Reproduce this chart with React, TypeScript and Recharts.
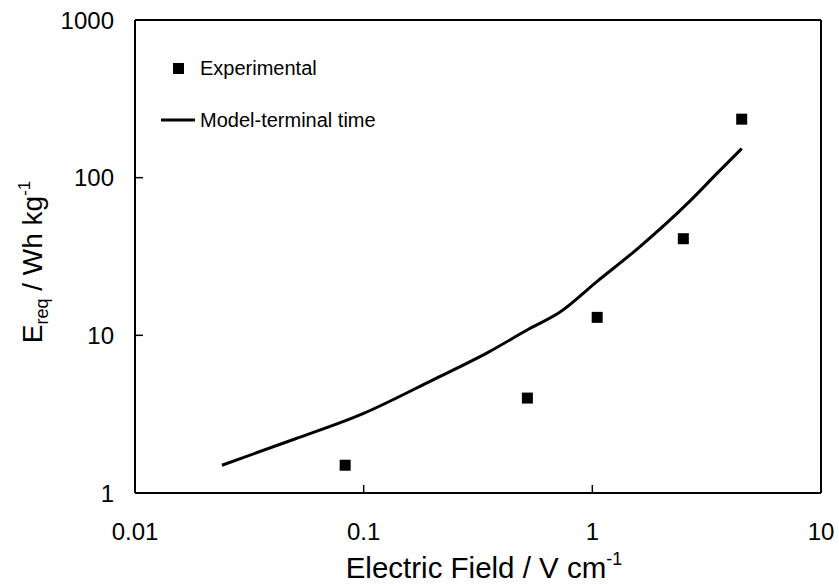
import React from 'react';
import { ComposedChart, Line, Scatter, XAxis, YAxis, ReferenceLine, Label } from 'recharts';

const expX = [0.083, 0.52, 1.05, 2.5, 4.5];
const expY = [1.5, 4.0, 13, 41, 235];

const modelX = [0.024, 0.05, 0.1, 0.2, 0.35, 0.53, 0.72, 1.05, 1.56, 2.67, 3.5, 4.5];
const modelY = [1.5, 2.2, 3.2, 5.2, 7.8, 11, 14, 22, 35, 71, 106, 153];

const xTicks = [0.01, 0.1, 1, 10];
const yTicks = [1, 10, 100, 1000];

const FONT = '"Liberation Sans", Arial, sans-serif';

const expData = expX.map((x, i) => ({ x, y: expY[i] }));
const modelData = modelX.map((x, i) => ({ x, y: modelY[i] }));

const SquareDot = (props: any) => {
  const { cx, cy } = props;
  if (cx == null || cy == null) return null;
  return <rect x={cx - 5.5} y={cy - 5.5} width={11} height={11} fill="#000" />;
};

// legend drawn as an overlay so it doesn't eat into the plot area
const LegendBox = () => (
  <svg width={240} height={80} style={{ position: 'absolute', left: 160, top: 55 }}>
    <rect x={13} y={8} width={11} height={11} fill="#000" />
    <text x={40} y={20} fontSize={20} fontFamily={FONT} fill="#000">Experimental</text>
    <line x1={1} x2={35} y1={65} y2={65} stroke="#000" strokeWidth={3} />
    <text x={40} y={72} fontSize={20} fontFamily={FONT} fill="#000">Model-terminal time</text>
  </svg>
);

const YTitle = () => (
  <text x={42} y={262} transform="rotate(-90 42 262)" textAnchor="middle" fontSize={28} fontFamily={FONT} fill="#000">
    E<tspan dy={6} fontSize={18}>req</tspan>
    <tspan dy={-6}> / Wh kg</tspan>
    <tspan dy={-12} fontSize={17}>-1</tspan>
  </text>
);

const XTitle = () => (
  <text x={484} y={578} textAnchor="middle" fontSize={29.5} fontFamily={FONT} fill="#000">
    Electric Field / V cm<tspan dy={-13} fontSize={18}>-1</tspan>
  </text>
);

export default function App() {
  return (
    <div style={{ position: 'absolute', left: 0, top: 0, width: 839, height: 586, background: '#fff' }}>
      <ComposedChart width={839} height={586} margin={{ top: 20, right: 18, left: 35, bottom: 33 }}>
        <XAxis
          dataKey="x"
          type="number"
          scale="log"
          domain={[0.01, 10]}
          ticks={xTicks}
          allowDataOverflow
          height={60}
          tickSize={-8}
          tickMargin={38}
          interval={0}
          axisLine={{ stroke: '#000', strokeWidth: 2 }}
          tickLine={{ stroke: '#000', strokeWidth: 1.5 }}
          tick={{ fill: '#000', fontSize: 24, fontFamily: FONT }}
          tickFormatter={(v: number) => String(v)}
        >
          <Label content={<XTitle />} />
        </XAxis>
        <YAxis
          dataKey="y"
          type="number"
          scale="log"
          domain={[1, 1000]}
          ticks={yTicks}
          allowDataOverflow
          width={100}
          tickSize={-8}
          tickMargin={29}
          interval={0}
          axisLine={{ stroke: '#000', strokeWidth: 2 }}
          tickLine={{ stroke: '#000', strokeWidth: 1.5 }}
          tick={{ fill: '#000', fontSize: 24, fontFamily: FONT }}
          tickFormatter={(v: number) => String(v)}
        >
          <Label content={<YTitle />} />
        </YAxis>
        <ReferenceLine y={1000} stroke="#000" strokeWidth={2} />
        <ReferenceLine x={10} stroke="#000" strokeWidth={2} />
        <Line
          data={modelData}
          dataKey="y"
          type="monotone"
          stroke="#000"
          strokeWidth={3}
          dot={false}
          isAnimationActive={false}
          name="Model-terminal time"
        />
        <Scatter
          data={expData}
          dataKey="y"
          fill="#000"
          shape={<SquareDot />}
          isAnimationActive={false}
          name="Experimental"
        />
      </ComposedChart>
      <LegendBox />
    </div>
  );
}
